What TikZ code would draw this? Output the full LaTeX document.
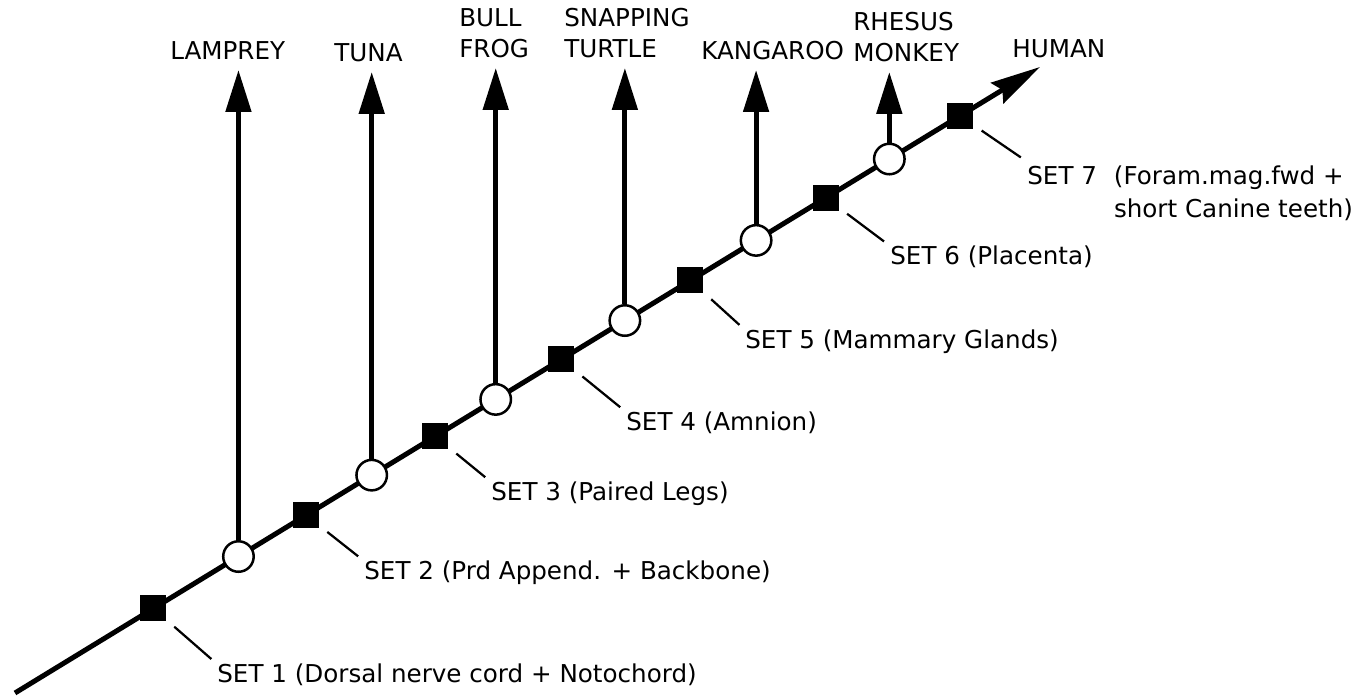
\documentclass[tikz,border=0pt]{standalone}
\usepackage{fontspec}
\setmainfont{DejaVu Sans}
\usetikzlibrary{arrows.meta,calc,positioning}
\tikzset{trait/.style={rectangle, fill=black, minimum size=0.52cm, inner sep=0pt}}
\tikzset{taxon/.style={circle, draw, fill=white, line width=0.05cm, minimum size=0.61cm, inner sep=0pt}}
\tikzset{animal/.style={anchor=south west, inner sep=0pt, align=left, font=\fontsize{14}{17.5}\selectfont}}
\tikzset{setlabel/.style={anchor=base west, inner sep=0pt, font=\fontsize{14}{17}\selectfont}}
\tikzset{leader/.style={line width=0.045cm, shorten <=0.2cm, shorten >=0.15cm}}
\tikzset{branch/.style={line width=0.1cm, shorten >=0.2cm, -{Triangle[length=0.84cm, width=0.5cm]}}}

\begin{document}
\begin{tikzpicture}[x=0.02cm, y=0.02cm]
\useasboundingbox (0,0) rectangle (1363,696);
% Nodes
\coordinate (root) at (15,3);
\coordinate (tip) at (1040,629);

\draw[line width=0.1cm, -{Stealth[length=1.0cm, width=0.48cm, inset=0.12cm]}] (root) -- (tip);

\path (root) -- (tip)
  node[trait, pos=0.135] (set1) {}
  node[taxon, pos=0.218] (lamprey) {}
  node[trait, pos=0.284] (set2) {}
  node[taxon, pos=0.348] (tuna) {}
  node[trait, pos=0.410] (set3) {}
  node[taxon, pos=0.469] (frog) {}
  node[trait, pos=0.533] (set4) {}
  node[taxon, pos=0.595] (turtle) {}
  node[trait, pos=0.659] (set5) {}
  node[taxon, pos=0.723] (kangaroo) {}
  node[trait, pos=0.791] (set6) {}
  node[taxon, pos=0.853] (rhesus) {}
  node[trait, pos=0.922] (set7) {};

\node[animal] (lampreyLbl) at (170,636) {LAMPREY};
\node[animal] (tunaLbl) at (334,634) {TUNA};
\node[animal] (frogLbl) at (459,638) {BULL\\FROG};
\node[animal] (turtleLbl) at (564,638) {SNAPPING\\TURTLE};
\node[animal] (kangarooLbl) at (701,636) {KANGAROO};
\node[animal] (rhesusLbl) at (853,634) {RHESUS\\MONKEY};
\node[animal] (humanLbl) at (1012,638) {HUMAN};

\node[setlabel] (set1Lbl) at (217,13) {SET 1 (Dorsal nerve cord + Notochord)};
\node[setlabel] (set2Lbl) at (364,116) {SET 2 (Prd Append. + Backbone)};
\node[setlabel] (set3Lbl) at (491,195) {SET 3 (Paired Legs)};
\node[setlabel] (set4Lbl) at (626,265) {SET 4 (Amnion)};
\node[setlabel] (set5Lbl) at (745,347) {SET 5 (Mammary Glands)};
\node[setlabel] (set6Lbl) at (890,431) {SET 6 (Placenta)};
\node[setlabel] (set7Lbl) at (1027,511) {SET 7\hspace{0.34cm}\def\arraystretch{1.1}\begin{tabular}[t]{@{}l@{}}(Foram.mag.fwd +\\short Canine teeth)\end{tabular}};

% Connectors
\begin{scope}
\draw[branch] (lamprey) -- (lamprey |- lampreyLbl.south);
\draw[branch] (tuna) -- (tuna |- tunaLbl.south);
\draw[branch] (frog) -- (frog |- frogLbl.south);
\draw[branch] (turtle) -- (turtle |- turtleLbl.south);
\draw[branch] (kangaroo) -- (kangaroo |- kangarooLbl.south);
\draw[branch] (rhesus) -- (rhesus |- rhesusLbl.south);

\draw[leader] (set1) -- (set1Lbl.north west);
\draw[leader] (set2) -- (set2Lbl.north west);
\draw[leader] (set3) -- (set3Lbl.north west);
\draw[leader] (set4) -- (set4Lbl.north west);
\draw[leader] (set5) -- (set5Lbl.north west);
\draw[leader] (set6) -- (set6Lbl.north west);
\draw[leader] (set7) -- (set7Lbl.north west);
\end{scope}

\end{tikzpicture}
\end{document}
